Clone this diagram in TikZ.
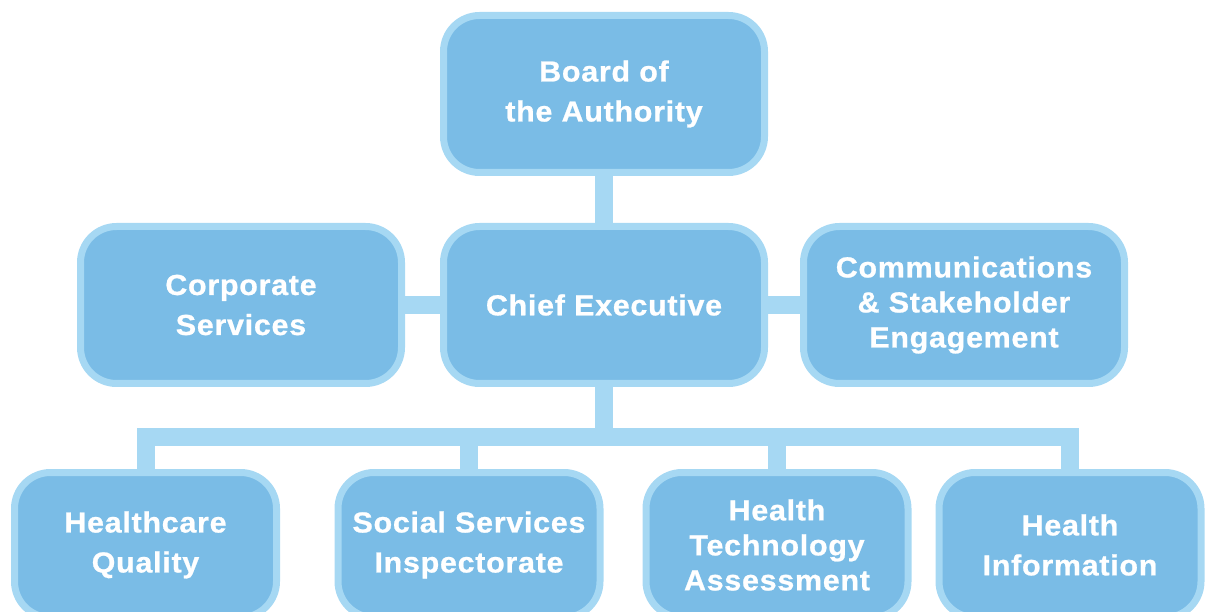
\documentclass[tikz,border=0pt]{standalone}
\usepackage{fontspec}
\setmainfont{Liberation Sans}[LetterSpace=2.5, FakeStretch=1.05, BoldFeatures={FakeBold=0.8}]
\usepackage{tikz}
\usetikzlibrary{backgrounds}
\definecolor{unitfill}{HTML}{7ABCE6}
\definecolor{unitline}{HTML}{A6D8F3}

\begin{document}
\begin{tikzpicture}[x=1pt,y=-1pt,
  unit/.style={draw=unitline, fill=unitfill, line width=7pt, rounded corners=36pt,
    text=white, font=\bfseries\fontsize{29}{40}\selectfont, align=center, inner sep=0pt},
  head/.style={unit, minimum width=321pt, minimum height=157pt},
  dept/.style={unit, minimum width=262pt, minimum height=145pt},
  tight/.style={font=\bfseries\fontsize{29}{35}\selectfont},
  link/.style={draw=unitline, line width=18pt}]
  \useasboundingbox (0,0) rectangle (1211,612);

  \node[head] (Board) at (604,94) {Board of\\the Authority};
  \node[head] (CE) at (604,305) {Chief Executive};
  \node[head] (CS) at (241,305) {Corporate\\Services};
  \node[head, tight] (CSE) at (964,305) {Communications\\\& Stakeholder\\Engagement};

  \node[dept] (HQ) at (145.5,545) {Healthcare\\Quality};
  \node[dept] (SSI) at (469,545) {Social Services\\Inspectorate};
  \node[dept, tight] (HTA) at (777,545) {Health\\Technology\\Assessment};
  \node[dept] (HI) at (1070,545) {Health\\Information};

  \coordinate (bus) at (604,437);

  \begin{scope}[on background layer]
    \draw[link] (Board.south) -- (CE.north);
    \draw[link] (CS.east) -- (CE.west);
    \draw[link] (CE.east) -- (CSE.west);
    \draw[link] (CE.south) -- (bus);
    \draw[link] (HQ.north) |- (bus) -| (HI.north);
    \draw[link] (SSI.north) -- (SSI.north |- bus);
    \draw[link] (HTA.north) -- (HTA.north |- bus);
  \end{scope}
\end{tikzpicture}
\end{document}
